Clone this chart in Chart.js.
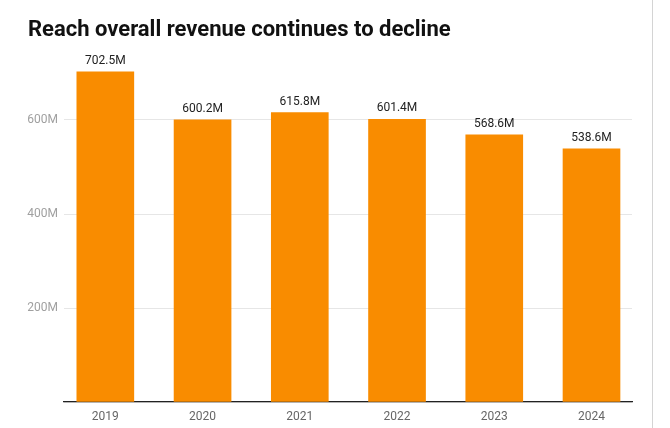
<!DOCTYPE html>
<html>
<head>
<meta charset="utf-8">
<script src="https://cdn.jsdelivr.net/npm/chart.js@4/dist/chart.umd.min.js"></script>
<style>
    html, body { margin: 0; padding: 0; background: #fff; }
    .frame { position: relative; width: 670px; height: 428px; overflow: hidden; }
    .title {
        position: absolute; left: 28px; top: 18px; margin: 0;
        font: 700 22px/22px Roboto, sans-serif; color: #111; white-space: nowrap;
    }
    .chart-box { position: absolute; left: 0; top: 0; width: 670px; height: 428px; }
    .edge { position: absolute; left: 652px; top: 0; width: 1px; height: 428px; background: #d4d4d4; }
</style>
</head>
<body>
<div class="frame">
    <div class="chart-box"><canvas id="revenueChart"></canvas></div>
    <h1 class="title">Reach overall revenue continues to decline</h1>
    <div class="edge"></div>
</div>
<script>
const years = ['2019', '2020', '2021', '2022', '2023', '2024'];
const revenue = [702.5, 600.2, 615.8, 601.4, 568.6, 538.6]; // £M
const yTicks = [200, 400, 600];

const BAR_COLOR = '#f98c00';

// value labels above each bar
const barLabels = {
    id: 'barLabels',
    afterDatasetsDraw(chart) {
        const { ctx } = chart;
        const meta = chart.getDatasetMeta(0);
        ctx.save();
        ctx.font = '12px Roboto, sans-serif';
        ctx.fillStyle = '#222';
        ctx.textAlign = 'center';
        ctx.textBaseline = 'alphabetic';
        meta.data.forEach((bar, i) => {
            ctx.fillText(revenue[i].toFixed(1) + 'M', bar.x, bar.y - 8);
        });
        ctx.restore();
    },
};

new Chart(document.getElementById('revenueChart'), {
    type: 'bar',
    data: {
        datasets: [{
            data: revenue.map((v, i) => ({ x: i, y: v })),
            backgroundColor: BAR_COLOR,
            borderWidth: 0,
            barThickness: 57,
        }],
    },
    options: {
        responsive: true,
        maintainAspectRatio: false,
        animation: false,
        layout: { padding: { top: 49.5, right: 38, bottom: 0, left: 0 } },
        plugins: { legend: { display: false }, tooltip: { enabled: false } },
        scales: {
            x: {
                type: 'linear',
                offset: false,
                min: -0.425,
                max: 5.4165,
                grid: { display: false, drawTicks: false, offset: false },
                border: { display: true, color: '#222', width: 1.2 },
                afterFit(scale) { scale.height = 26; },
                ticks: {
                    stepSize: 1,
                    includeBounds: false,
                    autoSkip: false,
                    maxRotation: 0,
                    padding: 8,
                    color: '#666',
                    font: { family: 'Roboto', size: 12 },
                    callback: (v) => years[v] ?? '',
                },
            },
            y: {
                min: 0,
                max: 750,
                grid: { color: '#e6e6e6', drawTicks: false },
                border: { display: false },
                afterFit(scale) { scale.width = 64; },
                ticks: {
                    stepSize: 200,
                    includeBounds: false,
                    padding: 6,
                    color: '#a0a0a0',
                    font: { family: 'Roboto', size: 12 },
                    callback: (v) => yTicks.includes(v) ? v + 'M' : '',
                },
            },
        },
    },
    plugins: [barLabels],
});
</script>
</body>
</html>
